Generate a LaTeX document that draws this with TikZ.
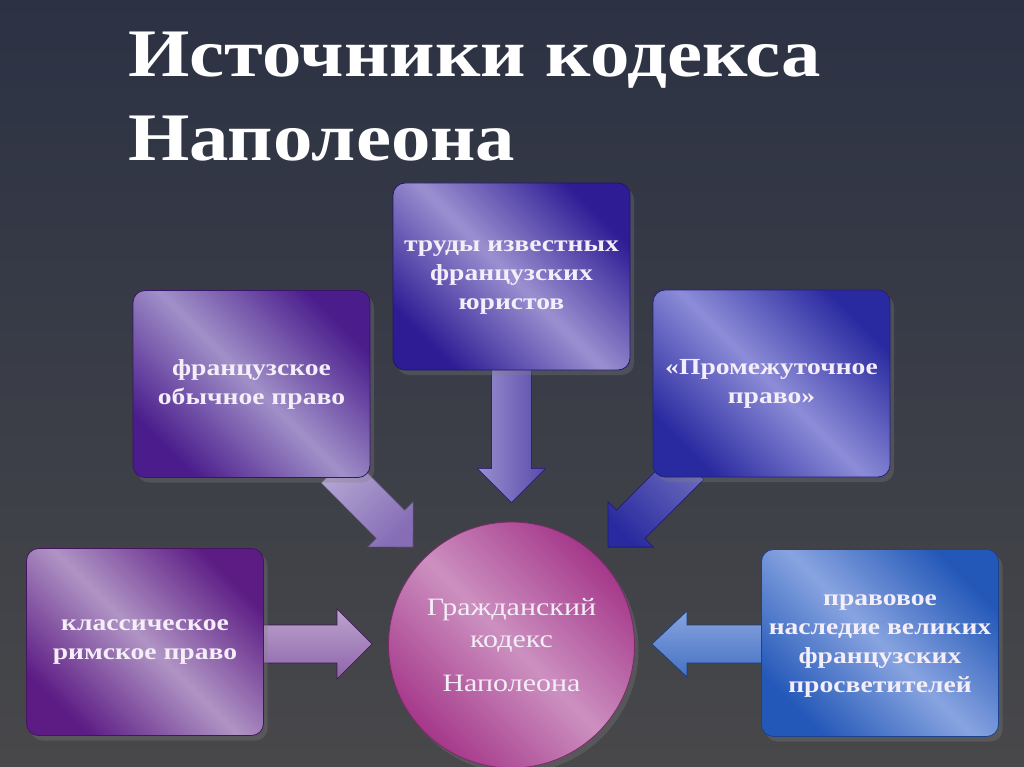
\documentclass[tikz,border=0pt]{standalone}
\usepackage{fontspec}
\setmainfont{Liberation Serif}[FakeStretch=1.2]
\newfontfamily\titlefont{Liberation Serif}[FakeStretch=1.16]
\usetikzlibrary{calc,shadows}
\pgfdeclarelayer{backdrop}
\pgfdeclarelayer{arrows}
\pgfsetlayers{backdrop,arrows,main}
\definecolor{bgtop}{HTML}{2C3244}
\definecolor{bgbot}{HTML}{48484A}
\definecolor{boxtext}{HTML}{F4EEF8}
\definecolor{juristdark}{HTML}{2E1C94}
\definecolor{juristlight}{HTML}{9A90D0}
\definecolor{customdark}{HTML}{4A1C8C}
\definecolor{customlight}{HTML}{A090C8}
\definecolor{interimdark}{HTML}{2A2AA0}
\definecolor{interimlight}{HTML}{8C8CD8}
\definecolor{romandark}{HTML}{5C1C84}
\definecolor{romanlight}{HTML}{B094C4}
\definecolor{heritagedark}{HTML}{2458B8}
\definecolor{heritagelight}{HTML}{88A4E0}
\definecolor{codedark}{HTML}{A5388A}
\definecolor{codelight}{HTML}{CC90C0}
% block arrow: [style](start)(tip)(shaft half:head half:head length)
\def\blockarrow[#1](#2)(#3)(#4:#5:#6){
	\coordinate (ba-s) at (#2);
	\coordinate (ba-t) at (#3);
	\coordinate (ba-c) at ($(ba-t)!#6pt!(ba-s)$);
	\fill[#1] ($(ba-s)!#4pt!90:(ba-t)$) -- ($(ba-c)!#4pt!90:(ba-t)$) -- ($(ba-c)!#5pt!90:(ba-t)$)
		-- (ba-t) -- ($(ba-c)!#5pt!-90:(ba-t)$) -- ($(ba-c)!#4pt!-90:(ba-t)$) -- ($(ba-s)!#4pt!-90:(ba-t)$) -- cycle;
}
\tikzset{
	srcbox/.style 2 args={rectangle, rounded corners=12pt, minimum width=237pt, minimum height=187pt,
		align=center, text=boxtext, font=\fontsize{23}{29}\selectfont\bfseries,
		top color=#1, bottom color=#1, middle color=#2, shading angle=-45,
		draw=#1!75!black, line width=0.8pt,
		drop shadow={shadow xshift=4pt, shadow yshift=-5pt, opacity=0.3}},
	codecircle/.style={circle, minimum size=246pt, align=center, text=boxtext,
		font=\fontsize{25}{32}\selectfont,
		top color=codedark, bottom color=codedark, middle color=codelight, shading angle=-45,
		draw=codedark!75!black, line width=0.8pt,
		drop shadow={shadow xshift=4pt, shadow yshift=-5pt, opacity=0.3}},
	arrowedge/.style={draw=#1, line width=0.6pt},
	titletext/.style={anchor=north west, inner sep=0pt, align=left, text=white,
		font=\titlefont\fontsize{68}{84}\selectfont\bfseries}
}

\begin{document}
\begin{tikzpicture}[x=1pt, y=-1pt]
		%%%%% START %%%%%
		\begin{pgfonlayer}{backdrop}
		\fill[top color=bgtop, bottom color=bgbot] (0, 0) rectangle (1024, 767);
		\end{pgfonlayer}
		\useasboundingbox (0, 0) rectangle (1024, 767);
		
		\node[titletext] (title) at (128, 32) {Источники кодекса\\Наполеона};
		
		\node[srcbox={juristdark}{juristlight}] (jurists) at (511.5, 276.5) {\\[-16pt]труды известных\\французских\\юристов};
		\node[srcbox={customdark}{customlight}] (customary) at (251.5, 384) {французское\\обычное право};
		\node[srcbox={interimdark}{interimlight}] (interim) at (771.5, 383.5) {«Промежуточное\\право»};
		\node[srcbox={romandark}{romanlight}] (roman) at (145, 642) {классическое\\римское право};
		\node[srcbox={heritagedark}{heritagelight}] (heritage) at (880, 643) {\\[-12pt]правовое\\наследие великих\\французских\\просветителей};
		
		\node[codecircle] (code) at (511.5, 645) {Гражданский\\кодекс\\[12pt]Наполеона};
		
		\coordinate (tipN) at ($(code.north)+(0, -19)$);
		\coordinate (tipNW) at ($(code.center)+(-98.5, -98)$);
		\coordinate (tipNE) at ($(code.center)+(96.5, -98)$);
		\coordinate (tipW) at ($(code.center)+(-139.5, -1)$);
		\coordinate (tipE) at ($(code.center)+(140.5, -1)$);
		
		\begin{pgfonlayer}{arrows}
		\blockarrow[left color=juristlight, right color=juristdark!80!white, arrowedge=juristdark]($(jurists.south)+(0, -5)$)(tipN)(20:34:34)
		\blockarrow[left color=customlight!80!white, right color=customlight!70!customdark, shading angle=45, arrowedge=customlight!60!black]($(customary.south east)+(-35, -9)$)(tipNW)(20:32:32)
		\blockarrow[left color=interimdark!70!white, right color=interimdark, shading angle=-45, arrowedge=interimdark!70!black]($(interim.south west)+(37, -12)$)(tipNE)(20:32:32)
		\blockarrow[top color=romanlight!85!white, bottom color=romanlight!60!romandark, arrowedge=romandark!70!black]($(roman.east)+(-5, 2)$)(tipW)(19:35:35)
		\blockarrow[top color=heritagelight, bottom color=heritagedark!85!white, arrowedge=heritagedark!70!black]($(heritage.west)+(5, 1)$)(tipE)(19:33:35)
		\end{pgfonlayer}
		%%%%% END %%%%%
\end{tikzpicture}
\end{document}
